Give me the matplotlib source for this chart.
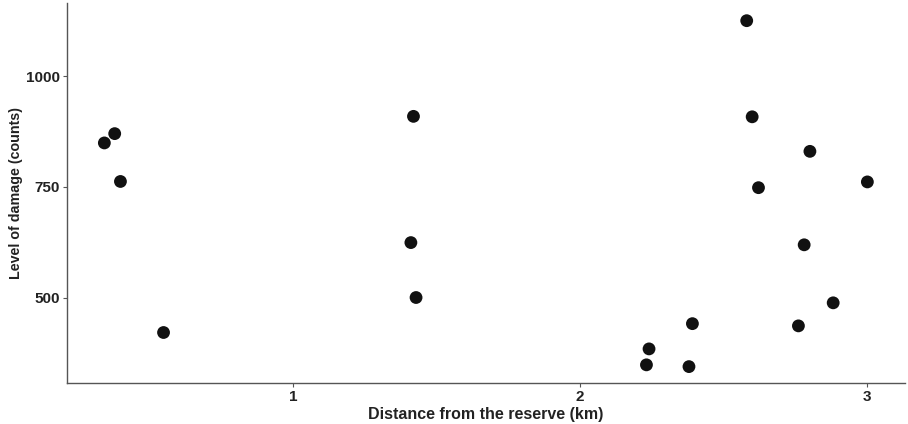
import matplotlib
matplotlib.use('Agg')
import matplotlib.pyplot as plt

# distance from reserve (km) and damage counts
distance = [0.344, 0.380, 0.400, 0.550,
            1.420, 1.411, 1.429,
            2.580, 2.599, 2.800, 2.621, 3.000, 2.780, 2.881, 2.760,
            2.391, 2.240, 2.231, 2.379]
damage = [849, 870, 762, 421,
          909, 624, 500,
          1125, 908, 830, 748, 761, 619, 488, 436,
          441, 384, 348, 344]

x_ticks = [1, 2, 3]
y_ticks = [500, 750, 1000]

plt.rcParams['font.family'] = ['Liberation Sans', 'DejaVu Sans']

fig = plt.figure(figsize=(9.08, 4.24), dpi=100)
ax = fig.add_axes([0.0738, 0.0967, 0.9229, 0.8963])

ax.scatter(distance, damage, s=85, color='#111111', edgecolors='none', zorder=3)

ax.set_xlim(0.214, 3.131)
ax.set_ylim(307, 1165)
ax.set_xticks(x_ticks)
ax.set_yticks(y_ticks)
ax.set_xticklabels([str(t) for t in x_ticks], fontsize=11, fontweight='bold', color='#222222')
ax.set_yticklabels([str(t) for t in y_ticks], fontsize=11, fontweight='bold', color='#222222')
ax.tick_params(length=3, width=0.8, color='#555555', pad=2)

for side in ['top', 'right']:
    ax.spines[side].set_visible(False)
for side in ['left', 'bottom']:
    ax.spines[side].set_color('#555555')
    ax.spines[side].set_linewidth(1.0)

ax.set_xlabel('Distance from the reserve (km)', fontsize=11.5, fontweight='bold', color='#222222', labelpad=2)
ax.set_ylabel('Level of damage (counts)', fontsize=10.3, fontweight='bold', color='#222222', labelpad=2)

fig.savefig('out.png', dpi=100)
